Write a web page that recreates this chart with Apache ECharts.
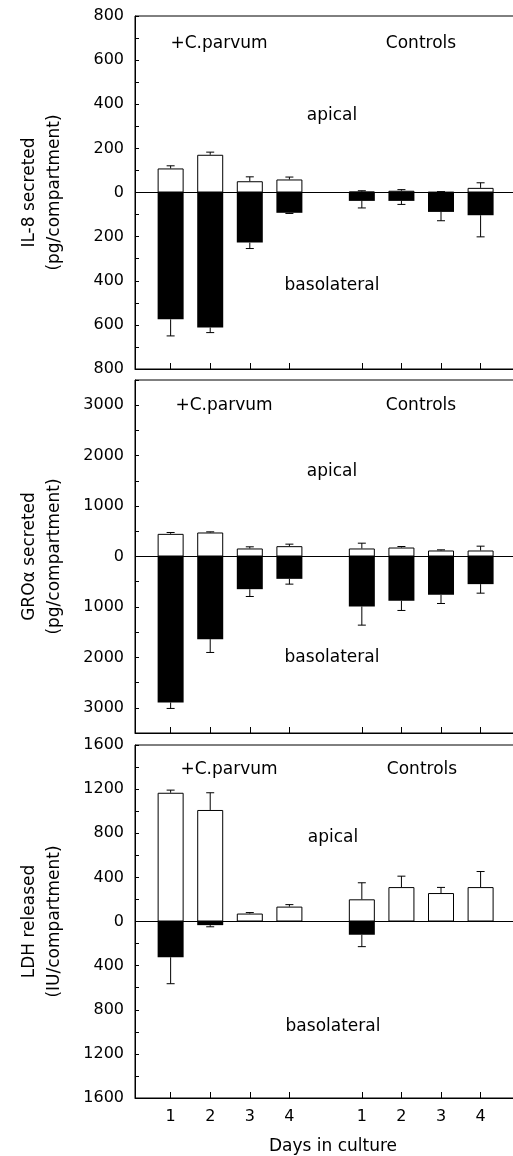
<!DOCTYPE html>
<html>
<head>
<meta charset="utf-8">
<script src="https://cdn.jsdelivr.net/npm/echarts@6/dist/echarts.min.js"></script>
<style>
  html, body { margin: 0; padding: 0; background: #fff; }
  #chart { width: 513px; height: 1156px; }
</style>
</head>
<body>
<div id="chart"></div>
<script>
// days in culture, C.parvum group then controls
var dayLabels = ['1', '2', '3', '4', '1', '2', '3', '4']
var dayPos = [1, 2, 3, 4, 5.83, 6.83, 7.83, 8.83]

// IL-8 (pg/compartment)
var il8Apical = [109, 171, 51, 59, 4, 8, 2, 21]
var il8ApicalSd = [12, 12, 20, 11, 4, 5, 2, 23]
var il8Baso = [575, 612, 227, 92, 38, 38, 88, 103]
var il8BasoSd = [75, 23, 27, 3, 32, 16, 40, 98]

// GRO alpha (pg/compartment)
var groApical = [449, 476, 159, 205, 159, 178, 119, 119]
var groApicalSd = [27, 13, 33, 40, 105, 20, 13, 86]
var groBaso = [2894, 1639, 648, 443, 991, 879, 760, 548]
var groBasoSd = [119, 264, 145, 105, 370, 191, 172, 179]

// LDH (IU/compartment)
var ldhApical = [1167, 1011, 72, 135, 201, 312, 258, 312]
var ldhApicalSd = [24, 156, 9, 18, 150, 99, 51, 141]
var ldhBaso = [324, 33, 0, 0, 120, 0, 0, 0]
var ldhBasoSd = [240, 15, 0, 0, 108, 0, 0, 0]

// axis ranges: [max, tick step, label step]
var il8Range = [800, 100, 200]
var groRange = [3500, 500, 1000]
var ldhRange = [1600, 200, 400]

var FONT = 'DejaVu Sans'

var panels = [
  { name: 'IL-8 secreted\n(pg/compartment)', range: il8Range, ap: il8Apical, apSd: il8ApicalSd, ba: il8Baso, baSd: il8BasoSd, top: 16 },
  { name: 'GROα secreted\n(pg/compartment)', range: groRange, ap: groApical, apSd: groApicalSd, ba: groBaso, baSd: groBasoSd, top: 380 },
  { name: 'LDH released\n(IU/compartment)', range: ldhRange, ap: ldhApical, apSd: ldhApicalSd, ba: ldhBaso, baSd: ldhBasoSd, top: 745 }
]

function dayLabel (v) {
  for (var k = 0; k < dayPos.length; k++) {
    if (Math.abs(dayPos[k] - v) < 1e-6) return dayLabels[k]
  }
  return ''
}

function renderError (params, api) {
  var x = api.value(0)
  var p0 = api.coord([x, api.value(1)])
  var p1 = api.coord([x, api.value(2)])
  var style = { stroke: '#000', lineWidth: 1 }
  return {
    type: 'group',
    children: [
      { type: 'line', shape: { x1: p0[0], y1: p0[1], x2: p1[0], y2: p1[1] }, style: style },
      { type: 'line', shape: { x1: p1[0] - 4, y1: p1[1], x2: p1[0] + 4, y2: p1[1] }, style: style }
    ]
  }
}

var grids = []
var xAxes = []
var yAxes = []
var series = []

panels.forEach(function (p, i) {
  var last = i === panels.length - 1
  // plot runs off the right edge, so no right border shows
  grids.push({
    left: 135, width: 384, top: p.top, height: 353,
    outerBoundsMode: 'none',
    show: true, borderColor: '#000', borderWidth: 1
  })
  xAxes.push({
    gridIndex: i,
    type: 'value',
    min: 0.1,
    max: 9.8,
    axisLine: { onZero: false, lineStyle: { color: '#000', width: 1 } },
    axisTick: { show: true, inside: true, length: 6, customValues: dayPos, lineStyle: { color: '#000' } },
    axisLabel: {
      show: last, customValues: dayPos, formatter: dayLabel,
      color: '#000', fontSize: 16, fontFamily: FONT, margin: 11
    },
    splitLine: { show: false },
    name: last ? 'Days in culture' : '',
    nameLocation: 'middle',
    nameGap: 40,
    nameTextStyle: { color: '#000', fontSize: 17, fontFamily: FONT, padding: [0, 0, 0, 12] }
  })
  var max = p.range[0]
  var labStep = p.range[2]
  yAxes.push({
    gridIndex: i,
    type: 'value',
    min: -max,
    max: max,
    interval: p.range[1],
    name: p.name,
    nameLocation: 'middle',
    nameRotate: 90,
    nameGap: 68,
    nameTextStyle: { color: '#000', fontSize: 17, lineHeight: 25, fontFamily: FONT },
    axisLine: { show: true, lineStyle: { color: '#000', width: 1 } },
    axisTick: { show: true, inside: true, length: 4, lineStyle: { color: '#000' } },
    axisLabel: {
      color: '#000', fontSize: 16, fontFamily: FONT, margin: 11,
      formatter: function (v) { return v % labStep === 0 ? String(Math.abs(v)) : '' }
    },
    splitLine: { show: false }
  })

  series.push({
    type: 'bar',
    xAxisIndex: i,
    yAxisIndex: i,
    stack: 'p' + i,
    barWidth: 26,
    data: dayPos.map(function (x, k) { return [x, p.ap[k]] }),
    itemStyle: { color: '#fff', borderColor: '#000', borderWidth: 1 },
    markLine: {
      silent: true,
      symbol: 'none',
      label: { show: false },
      lineStyle: { color: '#000', type: 'solid', width: 1 },
      data: [{ yAxis: 0 }]
    }
  })
  series.push({
    type: 'bar',
    xAxisIndex: i,
    yAxisIndex: i,
    stack: 'p' + i,
    barWidth: 26,
    data: dayPos.map(function (x, k) { return [x, -p.ba[k]] }),
    itemStyle: { color: '#000' }
  })

  var err = []
  dayPos.forEach(function (x, k) {
    if (p.apSd[k] > 0) err.push([x, p.ap[k], p.ap[k] + p.apSd[k]])
    if (p.baSd[k] > 0) err.push([x, -p.ba[k], -(p.ba[k] + p.baSd[k])])
  })
  series.push({
    type: 'custom',
    xAxisIndex: i,
    yAxisIndex: i,
    renderItem: renderError,
    data: err,
    z: 5
  })
})

// panel annotations
var notes = [
  ['+C.parvum', 219, 44], ['Controls', 421, 44], ['apical', 332, 116], ['basolateral', 332, 286],
  ['+C.parvum', 224, 406], ['Controls', 421, 406], ['apical', 332, 472], ['basolateral', 332, 658],
  ['+C.parvum', 229, 770], ['Controls', 422, 770], ['apical', 333, 838], ['basolateral', 333, 1027]
]

var chart = echarts.init(document.getElementById('chart'))
chart.setOption({
  animation: false,
  backgroundColor: '#fff',
  grid: grids,
  xAxis: xAxes,
  yAxis: yAxes,
  series: series,
  graphic: notes.map(function (n) {
    return {
      type: 'text',
      x: n[1],
      y: n[2],
      style: {
        text: n[0], fill: '#000', fontSize: 17, fontFamily: FONT,
        align: 'center', verticalAlign: 'middle'
      }
    }
  })
})
</script>
</body>
</html>
